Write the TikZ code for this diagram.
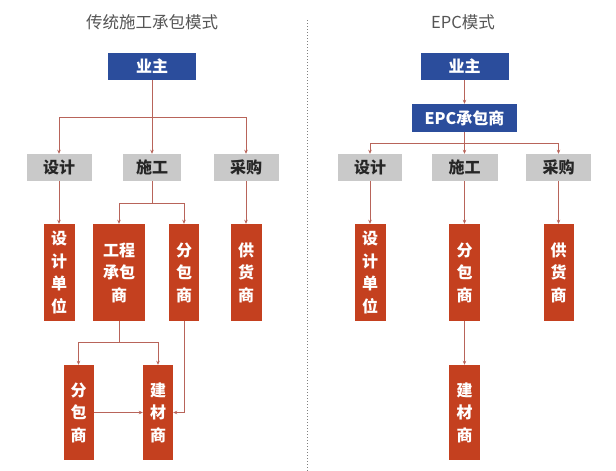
\documentclass[tikz,border=0pt]{standalone}
\usepackage{fontspec}
\setmainfont{Noto Sans CJK SC}
\usetikzlibrary{arrows.meta}
\definecolor{ownblue}{HTML}{2B4D9C}
\definecolor{boxred}{HTML}{C4401F}
\definecolor{boxgray}{HTML}{C9C9C9}
\definecolor{linered}{HTML}{B8645A}
\definecolor{titlegray}{HTML}{555555}
\tikzset{
  ownbox/.style={fill=ownblue, text=white, font=\bfseries\fontsize{16}{18}\selectfont, minimum height=27pt, inner sep=0pt},
  graybox/.style={fill=boxgray, text=black!85, font=\bfseries\fontsize{16}{18}\selectfont, minimum height=27pt, inner sep=0pt},
  redbox/.style={fill=boxred, text=white, font=\bfseries\fontsize{16}{22.5}\selectfont, align=center, inner sep=0pt},
  titletext/.style={text=titlegray, font=\fontsize{16.5}{18}\selectfont},
  conn/.style={draw=linered, line width=0.9pt},
  arr/.style={conn, -{Stealth[length=4pt,width=3.5pt]}}
}
\begin{document}
\begin{tikzpicture}[x=1pt,y=-1pt]
\useasboundingbox (0,0) rectangle (616,471);
\fill[white] (0,0) rectangle (616,471);
% divider
\draw[gray, dotted, line width=1pt] (307,20) -- (307,471);
% ===== left =====
\node[titletext] (tL) at (152,22) {传统施工承包模式};
\node[ownbox, minimum width=88pt] (ownL) at (152,66.5) {业主};
\node[graybox, minimum width=65pt] (sjL) at (59,167.5) {设计};
\node[graybox, minimum width=58pt] (sgL) at (152,167.5) {施工};
\node[graybox, minimum width=65pt] (cgL) at (246,167.5) {采购};
\node[redbox, minimum width=31pt, minimum height=97pt] (sjdwL) at (59,272.5) {设\\计\\单\\位};
\node[redbox, minimum width=52pt, minimum height=97pt] (gcL) at (119,272.5) {工程\\承包\\商};
\node[redbox, minimum width=30pt, minimum height=97pt] (fbL1) at (184,272.5) {分\\包\\商};
\node[redbox, minimum width=31pt, minimum height=97pt] (ghL) at (246,272.5) {供\\货\\商};
\node[redbox, minimum width=30pt, minimum height=95pt] (fbL2) at (78.5,412.5) {分\\包\\商};
\node[redbox, minimum width=30pt, minimum height=95pt] (jcL) at (158,412.5) {建\\材\\商};
\coordinate (b1L) at (152,117);
\coordinate (b2L) at (152,203);
\coordinate (b3L) at (119,342);
\draw[conn] (ownL.south) -- (b1L);
\draw[arr] (b1L) -| (sjL.north);
\draw[arr] (b1L) -- (sgL.north);
\draw[arr] (b1L) -| (cgL.north);
\draw[arr] (sjL.south) -- (sjdwL.north);
\draw[conn] (sgL.south) -- (b2L);
\draw[arr] (b2L) -| (gcL.north);
\draw[arr] (b2L) -| (fbL1.north);
\draw[arr] (cgL.south) -- (ghL.north);
\draw[conn] (gcL.south) -- (b3L);
\draw[arr] (b3L) -| (fbL2.north);
\draw[arr] (b3L) -| (jcL.north);
\draw[arr] (fbL2.east) -- (jcL.west);
\draw[arr] (fbL1.south) |- (jcL.east);
% ===== right =====
\node[titletext] (tR) at (463,22) {EPC模式};
\node[ownbox, minimum width=88pt] (ownR) at (464.5,66) {业主};
\node[ownbox, minimum width=105pt, minimum height=28pt] (epc) at (464.5,118) {EPC承包商};
\node[graybox, minimum width=64pt] (sjR) at (370,167.5) {设计};
\node[graybox, minimum width=66pt] (sgR) at (464.5,167.5) {施工};
\node[graybox, minimum width=65pt] (cgR) at (558.5,167.5) {采购};
\node[redbox, minimum width=31pt, minimum height=97pt] (sjdwR) at (370,272.5) {设\\计\\单\\位};
\node[redbox, minimum width=31pt, minimum height=97pt] (fbR) at (464.5,272.5) {分\\包\\商};
\node[redbox, minimum width=30pt, minimum height=97pt] (ghR) at (558.5,272.5) {供\\货\\商};
\node[redbox, minimum width=31pt, minimum height=95pt] (jcR) at (464.5,412.5) {建\\材\\商};
\coordinate (b1R) at (464.5,143);
\draw[arr] (ownR.south) -- (epc.north);
\draw[conn] (epc.south) -- (b1R);
\draw[arr] (b1R) -| (sjR.north);
\draw[arr] (b1R) -- (sgR.north);
\draw[arr] (b1R) -| (cgR.north);
\draw[arr] (sjR.south) -- (sjdwR.north);
\draw[arr] (sgR.south) -- (fbR.north);
\draw[arr] (cgR.south) -- (ghR.north);
\draw[arr] (fbR.south) -- (jcR.north);
\end{tikzpicture}
\end{document}
